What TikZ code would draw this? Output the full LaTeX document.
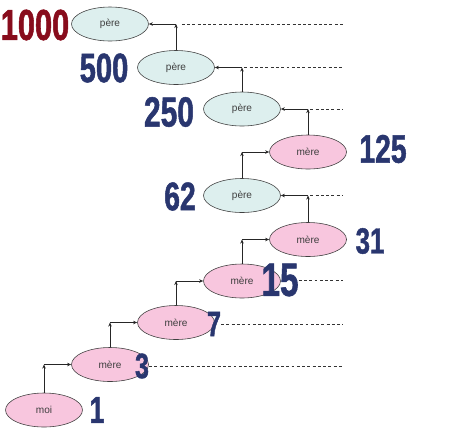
\documentclass[tikz,border=0pt]{standalone}
\usepackage{fontspec}
\setsansfont{Liberation Sans}
\newfontfamily\bignum{Liberation Sans}[FakeStretch=0.71, FakeBold=1.2]
\usetikzlibrary{shapes.geometric, arrows.meta}
\definecolor{pereblue}{HTML}{DDEFEE}
\definecolor{merepink}{HTML}{F8C6DE}
\definecolor{numblue}{HTML}{29366F}
\definecolor{numred}{HTML}{880C1C}

\begin{document}
\begin{tikzpicture}[x=0.03cm, y=-0.03cm,
  person/.style={ellipse, draw=black!75, line width=0.5pt, minimum width=2.31cm, minimum height=1.02cm, inner sep=0pt, font=\sffamily\fontsize{8.6}{9}\selectfont, text=black!75},
  pere/.style={person, fill=pereblue},
  mere/.style={person, fill=merepink},
  num/.style={inner sep=0pt, text=numblue, font=\bignum\bfseries\fontsize{#1}{#1}\selectfont},
  num/.default=34,
  link/.style={->, black!85, line width=0.6pt},
  gen/.style={black!80, line width=0.5pt, dash pattern=on 2.5pt off 2pt},
  >={Stealth[length=3.5pt, width=3pt]}]
\useasboundingbox (0, 0) rectangle (458, 437);
% the people
\node [mere] (moi) at (44, 410) {moi};
\node [mere] (m3) at (110, 364.5) {mère};
\node [mere] (m7) at (176, 322.5) {mère};
\node [mere] (m15) at (242, 281) {mère};
\node [mere] (m31) at (308, 239.5) {mère};
\node [pere] (p62) at (242, 195.5) {père};
\node [mere] (m125) at (308, 152) {mère};
\node [pere] (p250) at (242, 109) {père};
\node [pere] (p500) at (176, 67.5) {père};
\node [pere] (p1000) at (110, 24) {père};
% the numbers
\node [num=37, text=numred] (n1000) at (35, 25) {1000};
\node [num=35] (n500) at (104, 68) {500};
\node [num=36] (n250) at (169, 112) {250};
\node [num=34] (n125) at (383, 149) {125};
\node [num=34] (n62) at (180, 196.5) {62};
\node [num=31] (n31) at (370, 241) {31};
\node [num=40] (n15) at (280, 280) {15};
\node [num=30] (n7) at (214, 324) {7};
\node [num=30] (n3) at (142, 366) {3};
\node [num=32] (n1) at (97, 410) {1};
% the links
\coordinate (c1) at (moi |- m3);
\coordinate (c3) at (m3 |- m7);
\coordinate (c7) at (m7 |- m15);
\coordinate (c15) at (m15 |- m31);
\coordinate (c31) at (m31 |- p62);
\coordinate (c62) at (p62 |- m125);
\coordinate (c125) at (m125 |- p250);
\coordinate (c250) at (p250 |- p500);
\coordinate (c500) at (p500 |- p1000);
\draw [link] (moi) -- (c1); \draw [link] (c1) -- (m3);
\draw [link] (m3) -- (c3); \draw [link] (c3) -- (m7);
\draw [link] (m7) -- (c7); \draw [link] (c7) -- (m15);
\draw [link] (m15) -- (c15); \draw [link] (c15) -- (m31);
\draw [link] (m31) -- (c31); \draw [link] (c31) -- (p62);
\draw [link] (p62) -- (c62); \draw [link] (c62) -- (m125);
\draw [link] (m125) -- (c125); \draw [link] (c125) -- (p250);
\draw [link] (p250) -- (c250); \draw [link] (c250) -- (p500);
\draw [link] (p500) -- (c500); \draw [link] (c500) -- (p1000);
% dashed lines
\coordinate (edge) at (343, 0);
\draw [gen] (n3.east) -- (n3.east -| edge);
\draw [gen] (n7.east) -- (n7.east -| edge);
\draw [gen] (n15.east) -- (n15.east -| edge);
\draw [gen, shorten <=2pt] (c31) -- (c31 -| edge);
\draw [gen, shorten <=2pt] (c125) -- (c125 -| edge);
\draw [gen, shorten <=2pt] (c250) -- (c250 -| edge);
\draw [gen, shorten <=5pt] (c500) -- (c500 -| edge);
\end{tikzpicture}
\end{document}
